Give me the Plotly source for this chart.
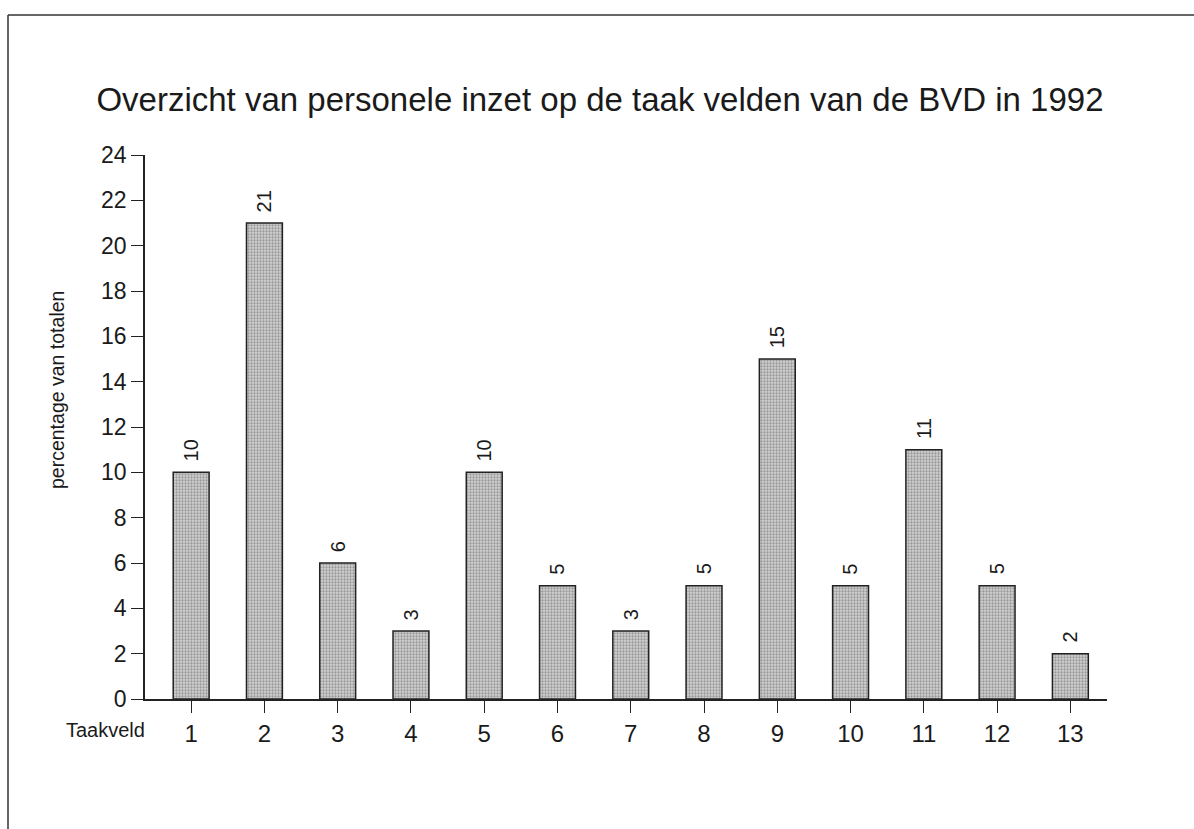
import plotly.graph_objects as go

categories = [1, 2, 3, 4, 5, 6, 7, 8, 9, 10, 11, 12, 13]
values = [10, 21, 6, 3, 10, 5, 3, 5, 15, 5, 11, 5, 2]
ytick_vals = list(range(0, 25, 2))

title_text = "Overzicht van personele inzet op de taak velden van de BVD in 1992"
ytitle_text = "percentage van totalen"
xlabel_text = "Taakveld"

FONT = "Liberation Sans, Arial, Helvetica, sans-serif"
INK = "#1a1a1a"

fig = go.Figure()
fig.add_trace(go.Bar(
    x=categories,
    y=values,
    width=0.49,
    marker=dict(
        color="#cccccc",
        line=dict(color="#222222", width=1.5),
        pattern=dict(shape=".", fgcolor="#5e5e5e", bgcolor="#d2d2d2", size=3, solidity=0.45),
    ),
    hoverinfo="x+y",
))

for c, v in zip(categories, values):
    fig.add_annotation(
        x=c, y=v, xref="x", yref="y",
        text=str(v), textangle=-90, showarrow=False,
        yanchor="bottom", xanchor="center", yshift=9,
        font=dict(family=FONT, size=20, color=INK),
    )

fig.add_annotation(
    x=0, y=0, xref="paper", yref="paper", text=xlabel_text, showarrow=False,
    xanchor="right", yanchor="middle", xshift=2, yshift=-31,
    font=dict(family=FONT, size=20, color=INK),
)
fig.add_annotation(
    x=0, y=(699 - 390) / 544, xref="paper", yref="paper", text=ytitle_text, showarrow=False,
    textangle=-90, xanchor="center", yanchor="middle", xshift=-88,
    font=dict(family=FONT, size=19.5, color=INK),
)

# page frame lines (scan border)
fig.add_shape(type="line", xref="paper", yref="paper",
              x0=-137 / 962, x1=1.2, y0=(699 - 15) / 544, y1=(699 - 15) / 544,
              line=dict(color="#333333", width=1.5))
fig.add_shape(type="line", xref="paper", yref="paper",
              x0=-137 / 962, x1=-137 / 962, y0=(699 - 15) / 544, y1=-0.3,
              line=dict(color="#333333", width=1.5))

fig.update_layout(
    width=1194, height=829,
    margin=dict(l=145, r=87, t=155, b=130),
    paper_bgcolor="white", plot_bgcolor="white",
    showlegend=False,
    title=dict(
        text=title_text, xref="container", yref="container",
        x=0.5025, y=1 - 99 / 829, xanchor="center", yanchor="middle",
        font=dict(family=FONT, size=33, color=INK),
    ),
    font=dict(family=FONT, color=INK),
)
fig.update_xaxes(
    range=[0.37, 13.5], tickmode="array", tickvals=categories,
    ticktext=[str(c) for c in categories],
    showgrid=False, zeroline=False, showline=True, linecolor="#222222", linewidth=1.5,
    ticks="outside", ticklen=12, tickwidth=1.2, tickcolor="#222222",
    tickfont=dict(family=FONT, size=24, color=INK),
)
fig.update_yaxes(
    range=[0, 24], tickmode="array", tickvals=ytick_vals,
    showgrid=False, zeroline=False, showline=True, linecolor="#222222", linewidth=1.5,
    ticks="outside", ticklen=12, tickwidth=1.2, tickcolor="#222222",
    tickfont=dict(family=FONT, size=23, color=INK),
)

fig.write_html("out.html", config={"displayModeBar": False},
               post_script="document.body.style.margin='0';document.body.style.overflow='hidden';")
